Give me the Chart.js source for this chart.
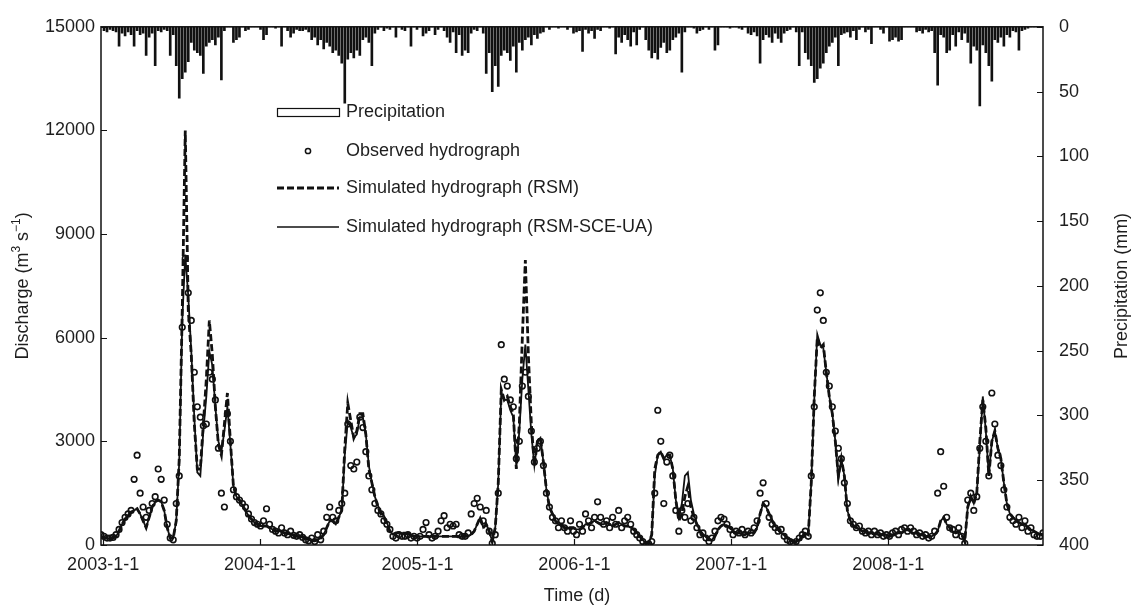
<!DOCTYPE html>
<html><head><meta charset="utf-8">
<script src="https://cdn.jsdelivr.net/npm/chart.js@4"></script>
<style>html,body{margin:0;padding:0;background:#fff}#wrap{width:1136px;height:605px;position:relative}</style>
</head><body><div id="wrap"><canvas id="c" width="1136" height="605"></canvas></div>
<script>
// Sampling grid: days since 2003-1-1 (weekly samples)
const START_DAY = -5, STEP_DAYS = 7;

// Observed discharge (m3/s)
const observed = [
300,250,200,200,220,300,450,650,800,900,
1000,1900,2600,1500,1100,800,1000,1200,1400,2200,
1900,1300,600,200,150,1200,2000,6300,8300,7300,
6500,5000,4000,3700,3450,3500,5000,4800,4200,2800,
1500,1100,3800,3000,1600,1400,1300,1200,1100,900,
750,650,600,550,700,1050,600,450,400,350,
500,350,300,400,280,250,300,220,150,120,
200,100,300,150,400,800,1100,800,700,1000,
1200,1500,3500,2300,2200,2400,3700,3400,2700,2000,
1600,1200,1000,900,700,600,450,250,200,300,
250,250,300,200,250,200,250,450,650,300,
200,250,400,700,850,500,600,550,600,300,
250,250,350,900,1200,1350,1100,700,1000,400,
50,300,1500,5800,4800,4600,4200,4000,2500,3000,
4600,5000,4300,3300,2400,2800,3000,2300,1500,1100,
800,700,500,700,500,400,700,400,300,600,
400,900,700,500,800,1250,800,600,700,500,
800,600,1000,500,700,800,600,400,300,200,
100,0,30,100,1500,3900,3000,1200,2400,2600,
2000,1000,400,1000,800,1200,700,800,500,300,
350,200,100,200,400,700,800,750,600,450,
300,400,350,450,300,400,350,500,700,1500,
1800,1200,800,600,500,400,450,250,150,100,
50,100,200,300,400,250,2000,4000,6800,7300,
6500,5000,4600,4000,3300,2800,2500,1800,1200,700,
600,500,550,400,350,400,300,400,300,350,
250,300,250,350,400,300,450,500,400,500,
400,300,350,250,300,200,250,400,1500,2700,
1700,800,500,450,300,500,250,50,1300,1500,
1000,1400,2800,4000,3000,2000,4400,3500,2600,2300,
1600,1100,800,700,600,800,500,700,400,500,
300,250,250,350
];

// Simulated hydrograph (RSM)
const simRSM = [
250,220,200,200,200,250,400,600,750,850,
950,1000,1050,900,700,500,800,1100,1250,1300,
1250,1000,500,200,200,700,2500,6800,12000,6800,
5500,3500,2200,2200,3500,4800,6500,5500,4000,2900,
2600,3500,4400,3000,1700,1400,1300,1150,1000,850,
750,650,600,550,550,550,500,450,420,400,
380,350,330,300,280,260,250,230,200,150,
120,120,150,200,300,500,700,700,600,800,
1000,2800,4100,3600,3100,3300,3800,3800,3200,2200,
1800,1400,1100,900,800,600,400,300,350,350,
340,340,330,300,250,250,250,250,250,250,
250,250,250,250,250,250,250,250,250,250,
250,250,260,300,400,600,800,500,600,400,
100,500,1800,4500,4200,4300,4000,3800,2200,3500,
6000,8250,5500,3500,2300,3000,3100,2400,1600,1100,
900,700,600,600,500,500,500,500,450,450,
500,600,600,650,700,650,600,600,650,600,
550,600,650,600,550,550,500,450,350,250,
150,50,50,300,2200,2600,2700,2500,2600,2600,
2200,1300,700,900,1400,1700,1100,800,600,400,
300,250,150,150,250,450,550,600,550,500,
400,350,350,300,300,350,350,350,500,900,
1200,1100,900,700,550,450,350,300,200,150,
100,100,150,250,350,300,1800,4300,6000,5700,
5800,5000,4300,3800,3000,2000,2500,2000,1000,700,
550,500,450,400,400,350,350,300,300,300,
300,300,250,280,350,350,350,400,450,400,
350,350,300,300,250,250,250,300,400,700,
800,600,500,400,350,400,300,100,1100,1400,
1200,1500,3000,4200,3400,2000,3000,3300,2800,2500,
1800,1200,900,800,700,650,600,600,500,450,
400,350,300,300
];

// Simulated hydrograph (RSM-SCE-UA)
const simSCE = [
250,220,200,200,200,250,400,600,750,850,
950,1000,1050,900,700,500,800,1100,1250,1300,
1250,1000,500,200,200,700,2400,6500,8400,7200,
5600,3700,2100,2000,3300,4300,5600,5200,4000,3000,
2700,3300,4000,2900,1700,1400,1300,1150,1000,850,
750,650,600,550,550,550,500,450,420,400,
380,350,330,300,280,260,250,230,200,150,
120,120,150,200,300,500,700,700,600,800,
1000,2600,3600,3400,3100,3200,3700,3700,3200,2300,
1800,1400,1150,950,850,650,400,300,350,350,
340,340,330,300,250,250,250,250,250,250,
250,250,250,250,250,250,250,250,250,250,
250,250,260,300,400,600,800,500,600,400,
100,500,1800,4400,4200,4200,3900,3700,2300,3300,
4800,5800,4500,3200,2300,3000,3100,2400,1600,1100,
900,700,600,600,500,500,500,500,450,450,
500,600,600,650,700,650,600,600,650,600,
550,600,650,600,550,550,500,450,350,250,
150,50,50,300,2000,2600,2700,2500,2600,2600,
2200,1300,800,1200,2000,2100,1300,900,600,400,
300,250,150,150,250,450,550,600,550,500,
400,350,350,300,300,350,350,350,500,900,
1200,1100,900,700,550,450,350,300,200,150,
100,100,150,250,350,300,1800,4200,6100,5800,
5700,5000,4300,3800,3000,1900,2500,2000,1000,700,
550,500,450,400,400,350,350,300,300,300,
300,300,250,280,350,350,350,400,450,400,
350,350,300,300,250,250,250,300,400,700,
800,600,500,400,350,400,300,100,1100,1400,
1200,1500,2800,4300,3300,2000,3000,3300,2800,2500,
1800,1200,900,800,700,650,600,600,500,450,
400,350,300,300
];

// Precipitation (mm)
const precipitation = [
0,3,4,2,3,4,15,5,7,4,
6,15,3,6,5,22,8,5,30,3,
4,2,3,22,6,30,55,40,35,27,
12,18,20,22,36,15,12,10,14,8,
41,3,0,0,12,10,8,0,3,2,
0,0,0,2,10,6,0,0,1,0,
15,0,3,8,5,2,3,3,2,4,
10,8,14,10,17,12,15,20,18,22,
28,59,25,20,24,18,22,10,8,12,
30,5,2,0,3,1,2,0,8,0,
2,3,0,15,0,2,0,7,5,3,
0,6,2,0,3,8,12,4,20,6,
22,18,20,5,2,3,0,5,36,20,
50,30,46,22,18,20,26,15,35,12,
18,10,8,14,6,9,5,4,0,2,
0,0,1,0,0,2,0,5,4,3,
19,2,5,3,9,2,3,0,0,1,
0,21,8,12,6,10,15,4,14,2,
0,10,18,24,20,25,16,12,20,18,
10,8,5,35,4,0,0,1,5,3,
2,0,2,0,18,14,0,0,0,1,
0,0,1,2,0,5,6,4,7,28,
10,6,8,12,5,9,12,5,3,2,
0,4,30,4,20,25,30,43,40,32,
28,20,15,12,8,30,6,5,4,8,
3,10,2,0,4,2,13,0,0,2,
5,0,11,10,8,11,10,0,0,0,
0,4,3,5,2,4,3,20,45,6,
8,20,18,6,15,4,10,5,12,28,
15,18,61,14,20,30,42,10,12,8,
15,6,8,3,4,18,3,2,1,0,
0,0,0,0
];

const tickDays = [0, 365, 731, 1096, 1461, 1826];
const tickLabels = ['2003-1-1', '2004-1-1', '2005-1-1', '2006-1-1', '2007-1-1', '2008-1-1'];
const dischargeStep = 3000, precipStep = 50;

const toXY = arr => arr.map((v, i) => ({x: START_DAY + STEP_DAYS * i, y: v}));

const FONT = "'Liberation Sans', Arial, Helvetica, sans-serif";
const TXT = '#1e1e1e';
Chart.defaults.font.family = FONT;
Chart.defaults.font.size = 18;
Chart.defaults.color = TXT;

const decor = {
  id: 'decor',
  afterDraw(chart) {
    const ctx = chart.ctx, a = chart.chartArea;
    const sy = chart.scales.y, sy2 = chart.scales.y2, sx = chart.scales.x;
    ctx.save();
    ctx.strokeStyle = '#111';
    ctx.lineWidth = 1.5;
    ctx.setLineDash([]);
    ctx.strokeRect(a.left, a.top, a.right - a.left, a.bottom - a.top);
    ctx.lineWidth = 1.2;
    ctx.beginPath();
    for (let v = 0; v <= 15000; v += dischargeStep) {
      const y = Math.round(sy.getPixelForValue(v)) + 0.5;
      ctx.moveTo(a.left, y); ctx.lineTo(a.left + 6, y);
    }
    for (let v = 0; v <= 400; v += precipStep) {
      const y = Math.round(sy2.getPixelForValue(v)) + 0.5;
      ctx.moveTo(a.right, y); ctx.lineTo(a.right - 6, y);
    }
    tickDays.forEach(d => {
      const x = Math.round(sx.getPixelForValue(d)) + 0.5;
      ctx.moveTo(x, a.bottom); ctx.lineTo(x, a.bottom - 6);
    });
    ctx.stroke();

    // axis titles
    ctx.fillStyle = TXT;
    ctx.textBaseline = 'middle';
    const midY = (a.top + a.bottom) / 2;
    const big = '18px ' + FONT, small = '12px ' + FONT;
    const parts = [['Discharge (m', big, 0], ['3', small, -6], [' s', big, 0], ['\u22121', small, -6], [')', big, 0]];
    let total = 0;
    parts.forEach(p => { ctx.font = p[1]; total += ctx.measureText(p[0]).width; });
    ctx.save();
    ctx.translate(23, midY);
    ctx.rotate(-Math.PI / 2);
    let cx = -total / 2;
    ctx.textAlign = 'left';
    parts.forEach(p => { ctx.font = p[1]; ctx.fillText(p[0], cx, p[2]); cx += ctx.measureText(p[0]).width; });
    ctx.restore();

    ctx.save();
    ctx.font = big;
    ctx.translate(1122, midY);
    ctx.rotate(-Math.PI / 2);
    ctx.textAlign = 'center';
    ctx.fillText('Precipitation (mm)', 0, 0);
    ctx.restore();

    ctx.font = big;
    ctx.textAlign = 'center';
    ctx.fillText('Time (d)', (a.left + a.right) / 2 + 5, 596);

    // legend
    const lx0 = 277, lx1 = 339, tx = 346;
    ctx.strokeStyle = '#111';
    ctx.lineWidth = 1.2;
    ctx.strokeRect(lx0 + 0.5, 108.5, lx1 - lx0, 8);
    ctx.lineWidth = 1.5;
    ctx.beginPath(); ctx.arc(308, 151, 2.6, 0, Math.PI * 2); ctx.stroke();
    ctx.lineWidth = 2.8; ctx.setLineDash([7, 3]);
    ctx.beginPath(); ctx.moveTo(lx0, 188); ctx.lineTo(lx1, 188); ctx.stroke();
    ctx.setLineDash([]); ctx.lineWidth = 1.6;
    ctx.beginPath(); ctx.moveTo(lx0, 227); ctx.lineTo(lx1, 227); ctx.stroke();
    ctx.textAlign = 'left';
    ctx.font = big;
    ctx.fillText('Precipitation', tx, 112);
    ctx.fillText('Observed hydrograph', tx, 151);
    ctx.fillText('Simulated hydrograph (RSM)', tx, 188);
    ctx.fillText('Simulated hydrograph (RSM-SCE-UA)', tx, 227);
    ctx.restore();
  }
};

new Chart(document.getElementById('c'), {
  type: 'line',
  data: {
    datasets: [
      {type: 'bar', label: 'Precipitation', data: toXY(precipitation), yAxisID: 'y2',
       backgroundColor: '#111', borderWidth: 0, barThickness: 2, order: 4},
      {label: 'Simulated hydrograph (RSM-SCE-UA)', data: toXY(simSCE), yAxisID: 'y',
       borderColor: '#111', borderWidth: 1.8, pointRadius: 0, tension: 0, fill: false, order: 3},
      {label: 'Simulated hydrograph (RSM)', data: toXY(simRSM), yAxisID: 'y',
       borderColor: '#111', borderWidth: 2.8, borderDash: [7, 3], pointRadius: 0, tension: 0, fill: false, order: 2},
      {label: 'Observed hydrograph', data: toXY(observed), yAxisID: 'y', showLine: false,
       pointRadius: 2.8, pointBorderWidth: 1.6, pointBorderColor: '#111', pointBackgroundColor: 'rgba(255,255,255,0)', order: 1}
    ]
  },
  options: {
    responsive: false, animation: false, devicePixelRatio: 1,
    layout: {padding: {top: 17, left: 0, right: 0, bottom: 0}},
    plugins: {legend: {display: false}, tooltip: {enabled: false}},
    scales: {
      x: {type: 'linear', min: START_DAY, max: START_DAY + STEP_DAYS * (observed.length - 1), offset: false,
          grid: {display: false, drawTicks: false}, border: {display: false},
          afterBuildTicks: s => { s.ticks = tickDays.map(v => ({value: v})); },
          ticks: {autoSkip: false, maxRotation: 0, padding: 9, color: TXT,
                  callback: v => { const k = tickDays.indexOf(v); return k >= 0 ? tickLabels[k] : ''; }},
          afterFit: s => { s.height = 60; }},
      y: {position: 'left', min: 0, max: 15000,
          grid: {display: false, drawTicks: false}, border: {display: false},
          ticks: {stepSize: dischargeStep, padding: 6, color: TXT, callback: v => String(v)},
          afterFit: s => { s.width = 101; }},
      y2: {position: 'right', min: 0, max: 400, reverse: true,
          grid: {display: false, drawTicks: false}, border: {display: false},
          ticks: {stepSize: precipStep, padding: 16, color: TXT, callback: v => String(v)},
          afterFit: s => { s.width = 93; }}
    }
  },
  plugins: [decor]
});
</script>
</body></html>
